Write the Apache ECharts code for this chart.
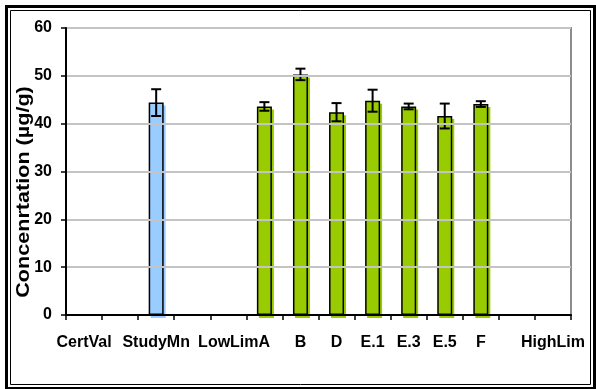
<!DOCTYPE html>
<html>
<head>
<meta charset="utf-8">
<script src="https://cdn.jsdelivr.net/npm/echarts@6/dist/echarts.min.js"></script>
<style>
  html, body { margin: 0; padding: 0; background: #fff; }
  #chart { width: 596px; height: 389px; }
</style>
</head>
<body>
<div id="chart"></div>
<script>
// Category slots along the x axis (blank slots keep the spacing between groups)
var categories = ['CertVal', ' ', 'StudyMn', '  ', 'LowLim', 'A', 'B', 'D', 'E.1', 'E.3', 'E.5', 'F', '   ', 'HighLim'];
// Mean concentration per slot (µg/g); null = no bar
var means = [null, null, 44.4, null, null, 43.6, 50.3, 42.4, 44.8, 43.6, 41.6, 44.1, null, null];
// Error (± half-range) per slot
var errors = [null, null, 2.8, null, null, 0.9, 1.2, 1.9, 2.3, 0.6, 2.6, 0.6, null, null];
// Which slots are the study mean (blue) rather than a lab result (green)
var isStudyMean = [false, false, true, false, false, false, false, false, false, false, false, false, false, false];
var yTicks = [0, 10, 20, 30, 40, 50, 60];
var yTitle = 'Concenrtation (µg/g)';

var BLUE = '#99ccff';
var GREEN = '#99cc00';
var labelFont = '"Liberation Sans", Arial, sans-serif';

var barData = means.map(function (v, i) {
  if (v === null) return null;
  var c = isStudyMean[i] ? BLUE : GREEN;
  return {
    value: v,
    itemStyle: {
      color: c,
      borderColor: '#000',
      borderWidth: 1.5,
      shadowColor: c,
      shadowOffsetX: 2,
      shadowOffsetY: 3,
      shadowBlur: 0
    }
  };
});

var errData = [];
means.forEach(function (v, i) {
  if (v !== null && errors[i] !== null) errData.push([i, v - errors[i], v + errors[i]]);
});

var chart = echarts.init(document.getElementById('chart'), null, { renderer: 'canvas' });
chart.setOption({
  animation: false,
  backgroundColor: '#fff',
  grid: {
    left: 66, right: 25, top: 28, bottom: 74,
    show: true, borderColor: '#8c8c8c', borderWidth: 2, backgroundColor: 'transparent'
  },
  xAxis: {
    type: 'category',
    data: categories,
    z: 10,
    axisLine: { lineStyle: { color: '#000', width: 2 } },
    axisTick: { show: true, interval: 0, length: 5, lineStyle: { color: '#000', width: 1.5 } },
    axisLabel: {
      interval: 0, margin: 20, color: '#000',
      fontFamily: labelFont, fontWeight: 'bold', fontSize: 16
    },
    splitLine: { show: false }
  },
  yAxis: {
    type: 'value',
    min: yTicks[0], max: yTicks[yTicks.length - 1], interval: 10,
    z: 10,
    axisLine: { show: true, lineStyle: { color: '#000', width: 2 } },
    axisTick: { show: true, length: 5, lineStyle: { color: '#000', width: 1.5 } },
    axisLabel: {
      margin: 14, color: '#000',
      fontFamily: labelFont, fontWeight: 'bold', fontSize: 16
    },
    splitLine: { show: true, lineStyle: { color: '#c4c4c4', width: 2 } }
  },
  graphic: [
    {
      type: 'text', x: 24, y: 192, rotation: Math.PI / 2, scaleX: 1.2,
      style: {
        text: yTitle, fill: '#000', align: 'center', verticalAlign: 'middle',
        font: 'bold 18px "Liberation Sans", Arial, sans-serif'
      }
    },
    {
      type: 'rect', silent: true,
      shape: { x: 6.5, y: 6.5, width: 588, height: 382 },
      style: { fill: 'none', stroke: '#000', lineWidth: 3 }
    },
    {
      type: 'rect', silent: true,
      shape: { x: 10.5, y: 10.5, width: 580, height: 374 },
      style: { fill: 'none', stroke: '#000', lineWidth: 1 }
    }
  ],
  series: [
    {
      type: 'bar',
      data: barData,
      barWidth: 15,
      z: 2
    },
    {
      type: 'custom',
      z: 5,
      data: errData,
      renderItem: function (params, api) {
        var x = api.value(0);
        var lo = api.coord([x, api.value(1)]);
        var hi = api.coord([x, api.value(2)]);
        var hw = 5;
        var st = { stroke: '#000', lineWidth: 2 };
        return {
          type: 'group',
          children: [
            { type: 'line', shape: { x1: lo[0], y1: lo[1], x2: hi[0], y2: hi[1] }, style: st },
            { type: 'line', shape: { x1: lo[0] - hw, y1: lo[1], x2: lo[0] + hw, y2: lo[1] }, style: st },
            { type: 'line', shape: { x1: hi[0] - hw, y1: hi[1], x2: hi[0] + hw, y2: hi[1] }, style: st }
          ]
        };
      }
    }
  ]
});
</script>
</body>
</html>
